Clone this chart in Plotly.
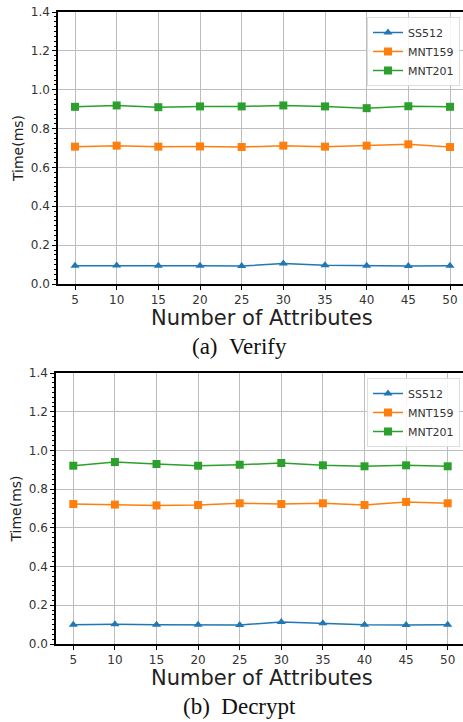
import plotly.graph_objects as go

attrs = [5, 10, 15, 20, 25, 30, 35, 40, 45, 50]

verify_ss512 = [0.094, 0.095, 0.094, 0.094, 0.093, 0.105, 0.097, 0.094, 0.093, 0.094]
verify_mnt159 = [0.707, 0.712, 0.707, 0.708, 0.705, 0.712, 0.707, 0.712, 0.719, 0.705]
verify_mnt201 = [0.912, 0.919, 0.910, 0.914, 0.914, 0.919, 0.914, 0.905, 0.915, 0.912]

decrypt_ss512 = [0.100, 0.102, 0.100, 0.100, 0.098, 0.114, 0.107, 0.100, 0.098, 0.100]
decrypt_mnt159 = [0.723, 0.720, 0.716, 0.718, 0.727, 0.723, 0.727, 0.718, 0.734, 0.727]
decrypt_mnt201 = [0.921, 0.940, 0.930, 0.921, 0.926, 0.935, 0.923, 0.918, 0.923, 0.918]

series_names = ["SS512", "MNT159", "MNT201"]
colors = ["#1f77b4", "#ff7f0e", "#2ca02c"]
symbols = ["triangle-up", "square", "square"]
y_ticks = [0.0, 0.2, 0.4, 0.6, 0.8, 1.0, 1.2, 1.4]

W, H = 463, 722

fig = go.Figure()

panels = [
    ([verify_ss512, verify_mnt159, verify_mnt201], "x", "y", "legend"),
    ([decrypt_ss512, decrypt_mnt159, decrypt_mnt201], "x2", "y2", "legend2"),
]
for data, xa, ya, lg in panels:
    for name, vals, c, s in zip(series_names, data, colors, symbols):
        fig.add_trace(go.Scatter(
            x=attrs, y=vals, name=name, mode="lines+markers",
            line=dict(color=c, width=1.5),
            marker=dict(color=c, symbol=s, size=8),
            xaxis=xa, yaxis=ya, legend=lg,
        ))

tickfont = dict(family="DejaVu Sans", size=12, color="#333333")
axis_common = dict(
    showgrid=True, gridcolor="#bdbdbd", gridwidth=1,
    showline=True, linecolor="black", linewidth=1.5,
    ticks="outside", ticklen=4, tickcolor="black", tickwidth=1,
    tickfont=tickfont, zeroline=False, automargin=False,
)

top_left, top_top, top_bot = 58, 12, 284
bot_left, bot_top, bot_bot = 56, 373, 644

def xr(left, x5, x50):
    ppu = (x50 - x5) / 45.0
    return [5 - (x5 - left) / ppu, 50 + (W - x50) / ppu]

xtitle_font = dict(family="DejaVu Sans", size=21, color="#222")
ytitle_font = dict(family="DejaVu Sans", size=14, color="#222")
minor = dict(ticks="outside", dtick=0.025, ticklen=2.5, tickcolor="black", showgrid=False)

fig.update_layout(
    width=W, height=H,
    margin=dict(l=0, r=0, t=0, b=0),
    paper_bgcolor="white", plot_bgcolor="white",
    xaxis=dict(domain=[top_left / W, 1.0], anchor="y", range=xr(top_left, 75, 450),
               tickvals=attrs, mirror=True, **axis_common),
    yaxis=dict(domain=[1 - top_bot / H, 1 - top_top / H], anchor="x", range=[0, 1.4],
               tickvals=y_ticks, tickformat=".1f", minor=minor,
               title=dict(text="Time(ms)", font=ytitle_font, standoff=4),
               **axis_common),
    xaxis2=dict(domain=[bot_left / W, 1.0], anchor="y2", range=xr(bot_left, 73.3, 447.7),
                tickvals=attrs, mirror=True, **axis_common),
    yaxis2=dict(domain=[1 - bot_bot / H, 1 - bot_top / H], anchor="x2", range=[0, 1.4],
                tickvals=y_ticks, tickformat=".1f", minor=minor,
                title=dict(text="Time(ms)", font=ytitle_font, standoff=4),
                **axis_common),
    legend=dict(x=460 / W, y=1 - 17 / H, xanchor="right", yanchor="top",
                bgcolor="rgba(255,255,255,0.85)", bordercolor="#dddddd", borderwidth=1,
                font=dict(family="DejaVu Sans", size=11, color="#333"),
                tracegroupgap=0, itemwidth=30),
    legend2=dict(x=460 / W, y=1 - 378 / H, xanchor="right", yanchor="top",
                 bgcolor="rgba(255,255,255,0.85)", bordercolor="#dddddd", borderwidth=1,
                 font=dict(family="DejaVu Sans", size=11, color="#333"),
                 tracegroupgap=0, itemwidth=30),
    showlegend=True,
)

cx = 262 / W
fig.add_annotation(text="Number of Attributes", xref="paper", yref="paper", x=cx, y=1 - 318 / H,
                   yanchor="middle", showarrow=False, font=xtitle_font)
fig.add_annotation(text="Number of Attributes", xref="paper", yref="paper", x=cx, y=1 - 678 / H,
                   yanchor="middle", showarrow=False, font=xtitle_font)
fig.add_annotation(text="(a)&nbsp;&nbsp;Verify", xref="paper", yref="paper", x=239 / W, y=1 - 346 / H,
                   yanchor="middle", showarrow=False, font=dict(family="Liberation Serif", size=23, color="#111"))
fig.add_annotation(text="(b)&nbsp;&nbsp;Decrypt", xref="paper", yref="paper", x=239 / W, y=1 - 706 / H,
                   yanchor="middle", showarrow=False, font=dict(family="Liberation Serif", size=23, color="#111"))

fig.write_html("out.html")
